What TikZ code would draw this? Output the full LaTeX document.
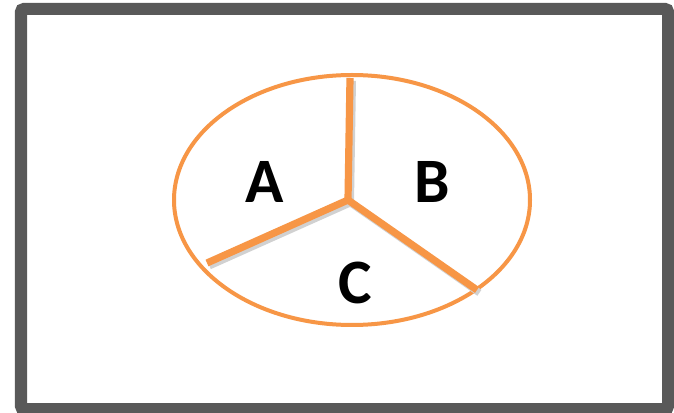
\documentclass[tikz,border=0pt]{standalone}
\usepackage{fontspec}
\setmainfont{Carlito}
\usetikzlibrary{calc, shapes.geometric}
\definecolor{corange}{HTML}{F79646}
\definecolor{cframe}{HTML}{595959}
\tikzset{
  frame/.style={draw=cframe, line width=0.3cm, rounded corners=2pt},
  rim/.style={draw=corange, line width=0.1cm, ellipse, inner sep=0pt},
  spoke/.style={draw=corange, line width=0.18cm},
  shade/.style={draw=black!18, line width=0.18cm},
  label/.style={font=\fontsize{45}{50}\selectfont\bfseries, inner sep=0pt},
}
\begin{document}
\begin{tikzpicture}
  \useasboundingbox (0,0) rectangle (16.85,10.3);
  \fill[white] (0,0) rectangle (16.85,10.3);
  \draw[frame] (0.525,0.075) rectangle (16.7,10.075);
  % the circle and its three parts
  \node[rim, minimum width=8.9cm, minimum height=6.25cm] (ring) at (8.8,5.3) {};
  \coordinate (mid) at (8.7,5.3);
  \coordinate (top) at (8.75,8.35);
  \coordinate (left) at (5.175,3.725);
  \coordinate (right) at (11.925,3.05);
  \foreach \e in {top,left,right} \draw[shade] ($(mid)+(0.06,-0.07)$) -- ($(\e)+(0.06,-0.07)$);
  \foreach \e in {top,left,right} \draw[spoke] (mid) -- (\e);
  \node[label] (a) at (6.625,5.75) {A};
  \node[label] (b) at (10.8,5.75) {B};
  \node[label] (c) at (8.875,3.225) {C};
\end{tikzpicture}
\end{document}
